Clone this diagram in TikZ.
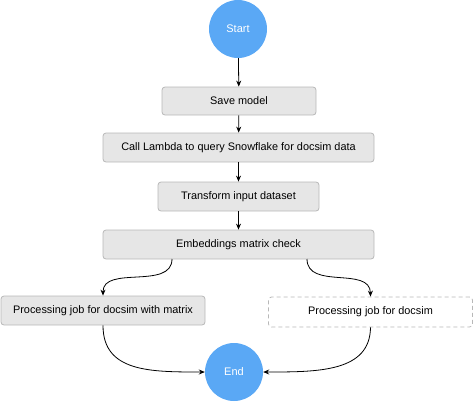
\documentclass[tikz,border=0pt]{standalone}
\usepackage{fontspec}
\setmainfont{Liberation Sans}
\usetikzlibrary{arrows.meta}
\definecolor{circblue}{HTML}{5AA8F5}
\definecolor{boxfill}{HTML}{E6E6E6}
\definecolor{boxline}{HTML}{B8B8B8}
\tikzset{
  circ/.style={circle, fill=circblue, draw=none, minimum size=58pt, inner sep=0pt, text=white, font=\fontsize{11}{13}\selectfont},
  procbox/.style={rounded corners=3pt, fill=boxfill, draw=boxline, line width=0.8pt, inner sep=0pt, font=\fontsize{10.9}{13}\selectfont},
  dashbox/.style={rounded corners=3pt, fill=white, draw=boxline, dashed, dash pattern=on 4pt off 3pt, line width=0.8pt, inner sep=0pt, font=\fontsize{10.9}{13}\selectfont},
  conn/.style={line width=0.8pt, -{Stealth[length=6pt,width=5pt]}}
}
\begin{document}
\begin{tikzpicture}[x=1pt,y=-1pt]
\useasboundingbox (0,0) rectangle (474,402);
\node[circ] (start) at (238,29) {Start};
\node[procbox, minimum width=154pt, minimum height=28pt] (save) at (239,101) {Save model};
\node[procbox, minimum width=271pt, minimum height=29pt] (lambda) at (238.5,147.5) {Call Lambda to query Snowflake for docsim data};
\node[procbox, minimum width=161pt, minimum height=29pt] (transform) at (238.5,196.5) {Transform input dataset};
\node[procbox, minimum width=271pt, minimum height=29pt] (embed) at (238.5,244.5) {Embeddings matrix check};
\node[procbox, minimum width=204pt, minimum height=29pt] (procm) at (103,310.5) {Processing job for docsim with matrix};
\node[dashbox, minimum width=204pt, minimum height=30pt] (procd) at (370.5,312) {Processing job for docsim};
\node[circ] (end) at (234,372) {End};
\coordinate (eL) at (172,259);
\coordinate (eR) at (307,259);
\draw[conn] (start) -- (save);
\draw[conn] (save) -- (lambda);
\draw[conn] (lambda) -- (transform);
\draw[conn] (transform) -- (embed);
\draw[conn] (eL) .. controls (172,290) and (103,265) .. (procm.north);
\draw[conn] (eR) .. controls (307,290) and (370,266) .. (procd.north);
\draw[conn] (procm.south) .. controls (103,372) and (150,372) .. (end.west);
\draw[conn] (procd.south) .. controls (370,372) and (318,372) .. (end.east);
\end{tikzpicture}
\end{document}
